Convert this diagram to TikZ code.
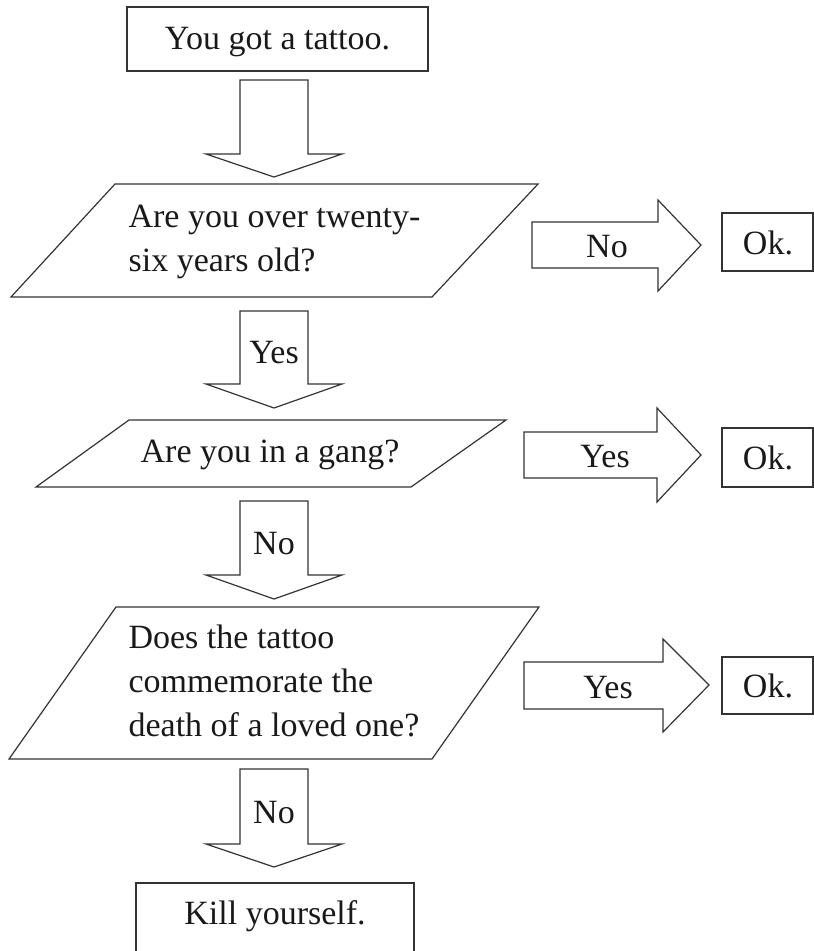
\documentclass[tikz,border=0pt]{standalone}
\usepackage{fontspec}
\setmainfont{Liberation Serif}

\begin{document}
\begin{tikzpicture}[x=0.75pt, y=-0.75pt, line width=0.9pt, draw=black!80,
  every node/.style={font=\fontsize{25.5}{33}\selectfont, inner sep=0pt, text=black!90}]
\useasboundingbox (0,0) rectangle (814,951);
\clip (0,0) rectangle (814,951);

% boxes
\draw (127,7) rectangle (428,71);
\draw (722,213) rectangle (813,271);
\draw (722,428) rectangle (813,487);
\draw (722,657) rectangle (813,714);
\draw (136,883) rectangle (414,970);

% questions
\draw (115,184) -- (538,184) -- (432,297) -- (11,297) -- cycle;
\draw (129,420) -- (506,420) -- (411,487) -- (36,487) -- cycle;
\draw (116,607) -- (539,607) -- (432,759) -- (9,759) -- cycle;

% down arrows
\draw (240,80) -- (308,80) -- (308,154) -- (342,154) -- (274,177) -- (206,154) -- (240,154) -- cycle;
\draw (240,311) -- (308,311) -- (308,384) -- (342,384) -- (274,408) -- (206,384) -- (240,384) -- cycle;
\draw (240,501) -- (308,501) -- (308,575) -- (342,575) -- (274,599) -- (206,575) -- (240,575) -- cycle;
\draw (240,769) -- (308,769) -- (308,844) -- (342,844) -- (274,867) -- (206,844) -- (240,844) -- cycle;

% right arrows
\draw (532,222) -- (658,222) -- (658,200) -- (701,245) -- (658,291) -- (658,268) -- (532,268) -- cycle;
\draw (524,432) -- (657,432) -- (657,408) -- (701,455) -- (657,502) -- (657,478) -- (524,478) -- cycle;
\draw (524,662) -- (663,662) -- (663,639) -- (709,685) -- (663,732) -- (663,709) -- (524,709) -- cycle;

\node[anchor=base] (start) at (277.5,49) {You got a tattoo.};
\node[anchor=base west, align=left] (q1) at (128,271) {Are you over twenty-\\six years old?};
\node[anchor=base] (q2) at (270,462) {Are you in a gang?};
\node[anchor=base west, align=left] (q3) at (128,736) {Does the tattoo\\commemorate the\\death of a loved one?};
\node[anchor=base] (stop) at (275,924) {Kill yourself.};

\node[anchor=base] (ok1) at (768,254) {Ok.};
\node[anchor=base] (ok2) at (768,469) {Ok.};
\node[anchor=base] (ok3) at (768,697) {Ok.};

\node[anchor=base] (yesA) at (274,363) {Yes};
\node[anchor=base] (noA) at (274,554) {No};
\node[anchor=base] (noB) at (274,823) {No};
\node[anchor=base] (noR) at (607,257) {No};
\node[anchor=base] (yesR) at (605,467) {Yes};
\node[anchor=base] (yesS) at (608,698) {Yes};
\end{tikzpicture}
\end{document}
